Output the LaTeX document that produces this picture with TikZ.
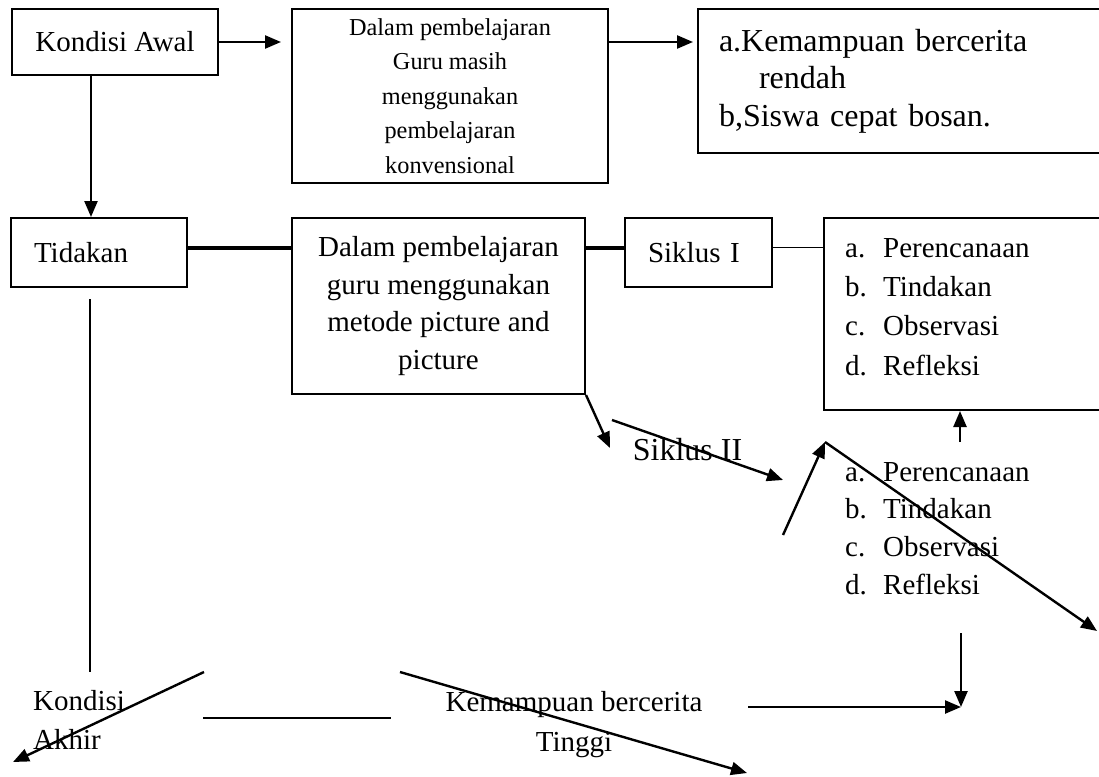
\documentclass[tikz,border=0pt]{standalone}
\usepackage{fontspec}
\setmainfont{Liberation Serif}
\usetikzlibrary{arrows.meta}

\begin{document}
\begin{tikzpicture}[x=1pt, y=-1pt, >={Triangle[length=16pt,width=13pt]},
  box/.style={draw, line width=2pt, inner sep=0pt, font=\fontsize{29}{37.7}\selectfont},
  boxl/.style={box, align=left, inner xsep=23pt},
  txt/.style={inner sep=0pt, font=\fontsize{29}{37.7}\selectfont},
  arr/.style={->, line width=2.4pt},
  ln/.style={line width=2pt}]
\useasboundingbox (0,0) rectangle (1099,776);
\node[box, minimum width=206, minimum height=66] (awal) at (115,42) {Kondisi Awal};
\node[box, minimum width=316, minimum height=174, align=center, font=\fontsize{24.3}{34.5}\selectfont] (konv) at (450,96) {Dalam pembelajaran\\Guru masih\\menggunakan\\pembelajaran\\konvensional};
\node[box, minimum height=144, text width=390, inner xsep=21pt, align=left, font=\fontsize{32}{37.5}\selectfont] (hasil) at (914,81) {a.Kemampuan bercerita\\\hspace*{40pt}rendah\\b,Siswa cepat bosan.};
\node[boxl, text width=130, minimum height=69] (tindak) at (99,252.5) {Tidakan};
\node[box, minimum width=293, minimum height=176, align=center] (metode) at (438.5,306) {Dalam pembelajaran\\guru menggunakan\\metode picture and\\picture};
\node[boxl, text width=101, minimum height=69] (siklus1) at (698.5,252.5) {Siklus I};
\node[box, minimum width=306, minimum height=192] (tahap1) at (977,314) {};
\node[txt, anchor=north west, align=left, font=\fontsize{29}{39.3}\selectfont] (isi1) at (845,238) {\makebox[38pt][l]{a.}Perencanaan\\\makebox[38pt][l]{b.}Tindakan\\\makebox[38pt][l]{c.}Observasi\\\makebox[38pt][l]{d.}Refleksi};
\node[txt, font=\fontsize{32}{38}\selectfont, anchor=base] (siklus2) at (687.5,460) {Siklus II};
\node[txt, anchor=north west, align=left] (isi2) at (845,462) {\makebox[38pt][l]{a.}Perencanaan\\\makebox[38pt][l]{b.}Tindakan\\\makebox[38pt][l]{c.}Observasi\\\makebox[38pt][l]{d.}Refleksi};
\node[txt, anchor=north west, align=left, font=\fontsize{29}{39}\selectfont] (akhir) at (33,690) {Kondisi\\Akhir};
\node[txt, anchor=north, align=center, font=\fontsize{29}{40}\selectfont] (tinggi) at (574,691) {Kemampuan bercerita\\Tinggi};
\coordinate (a1) at (610,448);
\coordinate (a2) at (612,420);
\coordinate (a3) at (783,480);
\coordinate (a4) at (783,535);
\coordinate (a5) at (825,442);
\coordinate (a6) at (1097,631);
\coordinate (a7) at (960,442);
\coordinate (a8) at (961,633);
\coordinate (a9) at (961,707);
\coordinate (a10) at (748,707);
\coordinate (b1) at (90,672);
\coordinate (b2) at (204,672);
\coordinate (b3) at (13,762);
\coordinate (b4) at (203,718);
\coordinate (b5) at (391,718);
\coordinate (b6) at (400,672);
\coordinate (b7) at (747,773);
\draw[arr, shorten >=10pt] (awal.east) -- (awal.east -| konv.west);
\draw[arr, shorten >=4pt] (konv.east |- awal.east) -- (awal.east -| hasil.west);
\draw[arr] ([xshift=-24pt]awal.south) -- ([xshift=-24pt]awal.south |- tindak.north);
\draw[line width=4pt] ([yshift=5pt]tindak.east) -- ([yshift=5pt]tindak.east -| metode.west);
\draw[line width=4pt] ([yshift=5pt]siklus1.west -| metode.east) -- ([yshift=5pt]siklus1.west);
\draw[line width=1.7pt] ([yshift=5pt]siklus1.east) -- ([yshift=5pt]siklus1.east -| tahap1.west);
\draw[arr] (a7) -- (a7 |- tahap1.south);
\draw[arr] (metode.south east) -- (a1);
\draw[arr] (a2) -- (a3);
\draw[arr] (a4) -- (a5);
\draw[arr] (a5) -- (a6);
\draw[arr] (a8) -- (a9);
\draw[arr] (a10) -- (a9);
\draw[ln, shorten <=11pt] ([xshift=-9pt]tindak.south) -- (b1);
\draw[arr] (b2) -- (b3);
\draw[ln, line width=2.4pt] (b4) -- (b5);
\draw[arr] (b6) -- (b7);
\end{tikzpicture}
\end{document}
